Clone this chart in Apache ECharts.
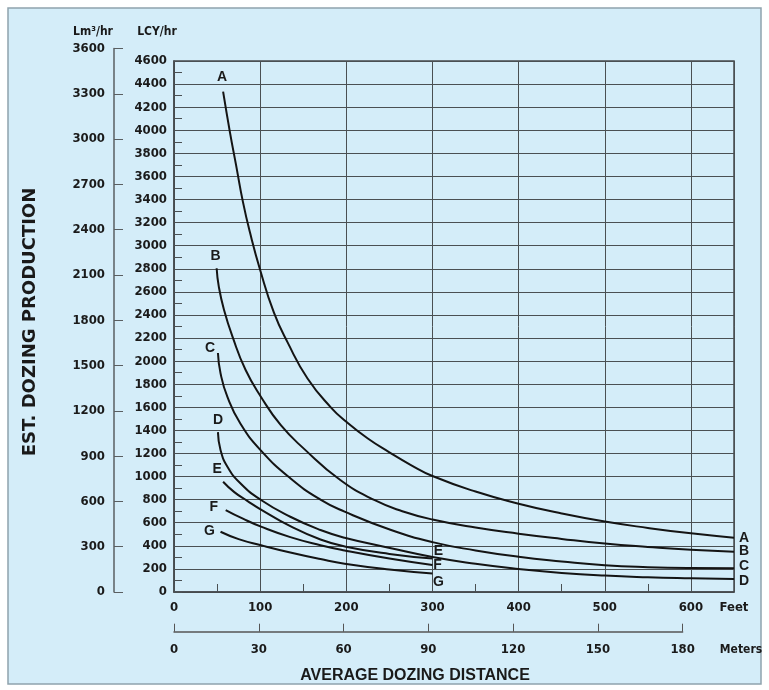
<!DOCTYPE html>
<html>
<head>
<meta charset="utf-8">
<script src="https://cdn.jsdelivr.net/npm/echarts@6/dist/echarts.min.js"></script>
<style>
html,body{margin:0;padding:0;background:#ffffff;}
#chart{width:769px;height:690px;}
</style>
</head>
<body>
<div id="chart"></div>
<script>
// ---- data (feet, LCY/hr) ----
const feetTicks = [0, 100, 200, 300, 400, 500, 600];
const meterTicks = [0, 30, 60, 90, 120, 150, 180];
const lcyTicks = [0,200,400,600,800,1000,1200,1400,1600,1800,2000,2200,2400,2600,2800,3000,3200,3400,3600,3800,4000,4200,4400,4600];
const lmTicks = [0,300,600,900,1200,1500,1800,2100,2400,2700,3000,3300,3600];
const curveNames = ['A','B','C','D','E','F','G'];

const curveA = [[57,4335],[65,3980],[72,3700],[80,3380],[88,3120],[100,2790],[116,2420],[132,2160],[155,1850],[182,1600],[200,1475],[225,1330],[250,1210],[275,1100],[300,1005],[350,870],[400,765],[450,680],[500,610],[550,555],[600,508],[650,470]];
const curveB = [[49.5,2805],[52,2645],[58,2445],[68,2210],[83,1925],[101,1690],[124,1445],[151,1240],[193,970],[233,795],[265,700],[300,628],[350,558],[400,505],[450,460],[500,420],[550,390],[600,365],[650,349]];
const curveC = [[51,2070],[54,1895],[62,1690],[77,1460],[101,1225],[135,985],[170,800],[198,696],[252,537],[300,432],[350,360],[400,305],[450,265],[500,232],[550,215],[600,207],[650,205]];
const curveD = [[51,1385],[54,1230],[62,1085],[77,942],[101,797],[135,652],[170,537],[198,470],[252,379],[300,303],[350,245],[400,200],[450,165],[500,142],[550,128],[600,119],[650,112]];
const curveE = [[57,955],[70,865],[85,790],[101,714],[135,570],[170,455],[198,395],[250,330],[300,290]];
const curveF = [[60,710],[80,635],[101,566],[135,475],[170,405],[198,360],[250,290],[300,234]];
const curveG = [[54,522],[75,458],[101,405],[135,342],[170,285],[198,245],[250,195],[300,160]];
const curves = [curveA, curveB, curveC, curveD, curveE, curveF, curveG];

// ---- label placement (style only) ----
const startOffsets = [[-1,-14],[-1,-12],[-8,-5],[0,-12],[-6,-13],[-12,-3],[-11,-1]];
const endOffsets = [[10,0],[10,-1],[10,-2],[10,2],[6,-7],[5,0],[6,9]];

const FONT = '"Liberation Sans", Arial, sans-serif';
const TFONT = '"DejaVu Sans Condensed", "DejaVu Sans", sans-serif';
const INK = '#1a1a1a';
const GRIDC = '#4a5053';

const chart = echarts.init(document.getElementById('chart'), null, {renderer: 'canvas'});

const lineSeries = curves.map((c, i) => ({
  type: 'line', name: curveNames[i], xAxisIndex: 0, yAxisIndex: 0,
  data: c, smooth: 0.5, symbol: 'none', silent: true,
  lineStyle: {color: '#141414', width: 2}, z: 5
}));

const labelData = [];
curves.forEach((c, i) => {
  labelData.push({value: c[0], label: {formatter: curveNames[i], offset: startOffsets[i]}});
  labelData.push({value: c[c.length - 1], label: {formatter: curveNames[i], offset: endOffsets[i]}});
});

const tickLabel = {color: INK, fontFamily: TFONT, fontWeight: 'bold', fontSize: 13};

const option = {
  animation: false,
  backgroundColor: '#ffffff',
  graphic: [
    {type: 'rect', shape: {x: 8, y: 8, width: 753, height: 676}, style: {fill: '#d4edf9', stroke: '#8fa3ad', lineWidth: 1.5}, z: -10},
    {type: 'text', x: 93, y: 32, style: {text: 'Lm³/hr', fill: INK, font: 'bold 12px ' + TFONT, textAlign: 'center', textVerticalAlign: 'middle'}},
    {type: 'text', x: 157, y: 32, style: {text: 'LCY/hr', fill: INK, font: 'bold 12px ' + TFONT, textAlign: 'center', textVerticalAlign: 'middle'}},
    {type: 'text', x: 734, y: 608, style: {text: 'Feet', fill: INK, font: 'bold 13px ' + TFONT, textAlign: 'center', textVerticalAlign: 'middle'}},
    {type: 'text', x: 741, y: 650, style: {text: 'Meters', fill: INK, font: 'bold 12px ' + TFONT, textAlign: 'center', textVerticalAlign: 'middle'}},
    {type: 'text', x: 415, y: 676, style: {text: 'AVERAGE DOZING DISTANCE', fill: INK, font: 'bold 16px ' + FONT, textAlign: 'center', textVerticalAlign: 'middle'}},
    {type: 'text', x: 30, y: 322, rotation: Math.PI / 2, style: {text: 'EST. DOZING PRODUCTION', fill: INK, font: 'bold 18px "DejaVu Sans", sans-serif', textAlign: 'center', textVerticalAlign: 'middle'}}
  ],
  grid: [
    {left: 174, top: 61, width: 560, height: 531, show: true, borderColor: '#454a4d', borderWidth: 1.5, backgroundColor: 'transparent', containLabel: false},
    {left: 114, top: 48.5, width: 20, height: 543.5, containLabel: false},
    {left: 174, top: 600, width: 508.6, height: 31.7, containLabel: false}
  ],
  xAxis: [
    {gridIndex: 0, type: 'value', min: 0, max: 650, interval: 100,
      axisLine: {show: true, lineStyle: {color: '#454a4d', width: 1.5}},
      axisTick: {show: true, inside: true, length: 8, lineStyle: {color: GRIDC}},
      minorTick: {show: true, splitNumber: 2, length: 8, lineStyle: {color: GRIDC}},
      splitLine: {show: true, lineStyle: {color: GRIDC, width: 1}},
      axisLabel: Object.assign({margin: 9, formatter: v => feetTicks.includes(v) ? String(v) : ''}, tickLabel)},
    {gridIndex: 1, type: 'value', show: false, min: 0, max: 1},
    {gridIndex: 2, type: 'value', min: 0, max: 180, interval: 30, position: 'bottom',
      axisLine: {show: true, lineStyle: {color: '#555', width: 1.5}},
      axisTick: {show: true, inside: true, length: 8, lineStyle: {color: '#555'}},
      splitLine: {show: false},
      axisLabel: Object.assign({margin: 11, formatter: v => meterTicks.includes(v) ? String(v) : ''}, tickLabel)}
  ],
  yAxis: [
    {gridIndex: 0, type: 'value', min: 0, max: 4600, interval: 200,
      axisLine: {show: true, lineStyle: {color: '#454a4d', width: 1.5}},
      axisTick: {show: true, inside: true, length: 8, lineStyle: {color: GRIDC}},
      minorTick: {show: true, splitNumber: 2, length: 8, lineStyle: {color: GRIDC}},
      splitLine: {show: true, lineStyle: {color: GRIDC, width: 1}},
      axisLabel: Object.assign({margin: 7, formatter: v => lcyTicks.includes(v) ? String(v) : ''}, tickLabel)},
    {gridIndex: 1, type: 'value', min: 0, max: 3600, interval: 300, position: 'left',
      axisLine: {show: true, lineStyle: {color: '#5a5f62', width: 1.5}},
      axisTick: {show: true, inside: true, length: 9, lineStyle: {color: '#5a5f62'}},
      splitLine: {show: false},
      axisLabel: Object.assign({margin: 9, formatter: v => lmTicks.includes(v) ? String(v) : ''}, tickLabel)},
    {gridIndex: 2, type: 'value', show: false, min: 0, max: 1}
  ],
  series: lineSeries.concat([{
    type: 'scatter', xAxisIndex: 0, yAxisIndex: 0, symbol: 'circle', symbolSize: 0, silent: true, z: 6,
    itemStyle: {color: INK, opacity: 1},
    label: {show: true, position: 'inside', color: INK, opacity: 1, fontFamily: FONT, fontWeight: 'bold', fontSize: 14},
    data: labelData
  }])
};
chart.setOption(option);
</script>
</body>
</html>
